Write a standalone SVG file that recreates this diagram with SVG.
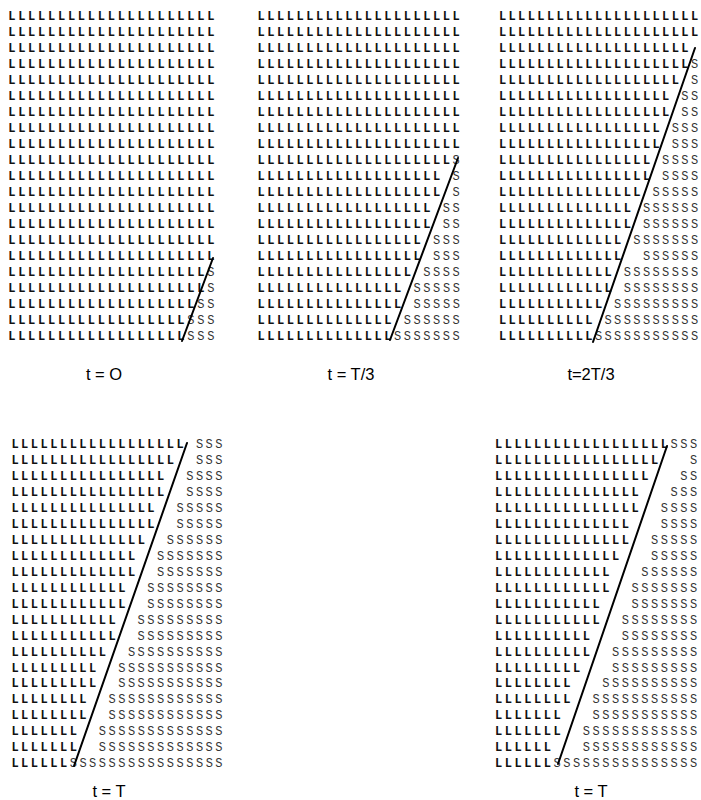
<svg xmlns="http://www.w3.org/2000/svg" width="701" height="800" viewBox="0 0 701 800">
<style>
.rows text{font-family:"Liberation Mono","DejaVu Sans Mono",monospace;font-size:12px;font-weight:bold;fill:#111}
.s{font-weight:normal;fill:#333}
.r1{letter-spacing:2.75px}
.r2{letter-spacing:2.56px}
.r3{letter-spacing:2.4px}
.r4{letter-spacing:2.51px}
.r5{letter-spacing:2.55px}
.lbl{font-family:"Liberation Sans",Arial,sans-serif;font-size:16.5px;text-anchor:middle;fill:#000;letter-spacing:0}
.ln{stroke:#000;stroke-width:2;stroke-linecap:round;fill:none}
</style>
<rect width="701" height="800" fill="#fff"/>
<g id="p1">
<g class="rows r1">
<text x="8.2" y="19.5">LLLLLLLLLLLLLLLLLLLLL</text>
<text x="8.2" y="35.5">LLLLLLLLLLLLLLLLLLLLL</text>
<text x="8.2" y="51.5">LLLLLLLLLLLLLLLLLLLLL</text>
<text x="8.2" y="67.5">LLLLLLLLLLLLLLLLLLLLL</text>
<text x="8.2" y="83.5">LLLLLLLLLLLLLLLLLLLLL</text>
<text x="8.2" y="99.5">LLLLLLLLLLLLLLLLLLLLL</text>
<text x="8.2" y="115.5">LLLLLLLLLLLLLLLLLLLLL</text>
<text x="8.2" y="131.5">LLLLLLLLLLLLLLLLLLLLL</text>
<text x="8.2" y="147.5">LLLLLLLLLLLLLLLLLLLLL</text>
<text x="8.2" y="163.5">LLLLLLLLLLLLLLLLLLLLL</text>
<text x="8.2" y="179.5">LLLLLLLLLLLLLLLLLLLLL</text>
<text x="8.2" y="195.5">LLLLLLLLLLLLLLLLLLLLL</text>
<text x="8.2" y="211.5">LLLLLLLLLLLLLLLLLLLLL</text>
<text x="8.2" y="227.5">LLLLLLLLLLLLLLLLLLLLL</text>
<text x="8.2" y="243.5">LLLLLLLLLLLLLLLLLLLLL</text>
<text x="8.2" y="259.5">LLLLLLLLLLLLLLLLLLLLL</text>
<text x="8.2" y="275.5">LLLLLLLLLLLLLLLLLLLL<tspan class="s" x="207.2">S</tspan></text>
<text x="8.2" y="291.5">LLLLLLLLLLLLLLLLLLLL<tspan class="s" x="207.2">S</tspan></text>
<text x="8.2" y="307.5">LLLLLLLLLLLLLLLLLLL<tspan class="s" x="197.2">SS</tspan></text>
<text x="8.2" y="323.5">LLLLLLLLLLLLLLLLLL<tspan class="s" x="187.3">SSS</tspan></text>
<text x="8.2" y="339.5">LLLLLLLLLLLLLLLLLL<tspan class="s" x="187.3">SSS</tspan></text>
</g>
<text class="lbl" x="104" y="380">t = O</text>
</g>
<g id="p2">
<g class="rows r2">
<text x="257.4" y="19.5">LLLLLLLLLLLLLLLLLLLLL</text>
<text x="257.4" y="35.5">LLLLLLLLLLLLLLLLLLLLL</text>
<text x="257.4" y="51.5">LLLLLLLLLLLLLLLLLLLLL</text>
<text x="257.4" y="67.5">LLLLLLLLLLLLLLLLLLLLL</text>
<text x="257.4" y="83.5">LLLLLLLLLLLLLLLLLLLLL</text>
<text x="257.4" y="99.5">LLLLLLLLLLLLLLLLLLLLL</text>
<text x="257.4" y="115.5">LLLLLLLLLLLLLLLLLLLLL</text>
<text x="257.4" y="131.5">LLLLLLLLLLLLLLLLLLLLL</text>
<text x="257.4" y="147.5">LLLLLLLLLLLLLLLLLLLLL</text>
<text x="257.4" y="163.5">LLLLLLLLLLLLLLLLLLLL<tspan class="s" x="452.6">S</tspan></text>
<text x="257.4" y="179.5">LLLLLLLLLLLLLLLLLLL<tspan class="s" x="452.6">S</tspan></text>
<text x="257.4" y="195.5">LLLLLLLLLLLLLLLLLLL<tspan class="s" x="452.6">S</tspan></text>
<text x="257.4" y="211.5">LLLLLLLLLLLLLLLLLL<tspan class="s" x="442.8">SS</tspan></text>
<text x="257.4" y="227.5">LLLLLLLLLLLLLLLLLL<tspan class="s" x="442.8">SS</tspan></text>
<text x="257.4" y="243.5">LLLLLLLLLLLLLLLLL<tspan class="s" x="433.1">SSS</tspan></text>
<text x="257.4" y="259.5">LLLLLLLLLLLLLLLLL<tspan class="s" x="433.1">SSS</tspan></text>
<text x="257.4" y="275.5">LLLLLLLLLLLLLLLL<tspan class="s" x="423.3">SSSS</tspan></text>
<text x="257.4" y="291.5">LLLLLLLLLLLLLLL<tspan class="s" x="413.6">SSSSS</tspan></text>
<text x="257.4" y="307.5">LLLLLLLLLLLLLLL<tspan class="s" x="413.6">SSSSS</tspan></text>
<text x="257.4" y="323.5">LLLLLLLLLLLLLL<tspan class="s" x="403.8">SSSSSS</tspan></text>
<text x="257.4" y="339.5">LLLLLLLLLLLLLL<tspan class="s" x="394">SSSSSSS</tspan></text>
</g>
<text class="lbl" x="351" y="380">t = T/3</text>
</g>
<g id="p3">
<g class="rows r3">
<text x="498.9" y="19.5">LLLLLLLLLLLLLLLLLLLLL</text>
<text x="498.9" y="35.5">LLLLLLLLLLLLLLLLLLLLL</text>
<text x="498.9" y="51.5">LLLLLLLLLLLLLLLLLLLL</text>
<text x="498.9" y="67.5">LLLLLLLLLLLLLLLLLLLL<tspan class="s" x="690.9">S</tspan></text>
<text x="498.9" y="83.5">LLLLLLLLLLLLLLLLLLL<tspan class="s" x="690.9">S</tspan></text>
<text x="498.9" y="99.5">LLLLLLLLLLLLLLLLLL<tspan class="s" x="681.3">SS</tspan></text>
<text x="498.9" y="115.5">LLLLLLLLLLLLLLLLLL<tspan class="s" x="681.3">SS</tspan></text>
<text x="498.9" y="131.5">LLLLLLLLLLLLLLLLL<tspan class="s" x="671.7">SSS</tspan></text>
<text x="498.9" y="147.5">LLLLLLLLLLLLLLLLL<tspan class="s" x="671.7">SSS</tspan></text>
<text x="498.9" y="163.5">LLLLLLLLLLLLLLLL<tspan class="s" x="662.1">SSSS</tspan></text>
<text x="498.9" y="179.5">LLLLLLLLLLLLLLLL<tspan class="s" x="662.1">SSSS</tspan></text>
<text x="498.9" y="195.5">LLLLLLLLLLLLLLL<tspan class="s" x="652.5">SSSSS</tspan></text>
<text x="498.9" y="211.5">LLLLLLLLLLLLLL<tspan class="s" x="642.9">SSSSSS</tspan></text>
<text x="498.9" y="227.5">LLLLLLLLLLLLLL<tspan class="s" x="642.9">SSSSSS</tspan></text>
<text x="498.9" y="243.5">LLLLLLLLLLLLL<tspan class="s" x="633.3">SSSSSSS</tspan></text>
<text x="498.9" y="259.5">LLLLLLLLLLLLL<tspan class="s" x="642.9">SSSSSS</tspan></text>
<text x="498.9" y="275.5">LLLLLLLLLLLL<tspan class="s" x="623.7">SSSSSSSS</tspan></text>
<text x="498.9" y="291.5">LLLLLLLLLLLL<tspan class="s" x="623.7">SSSSSSSS</tspan></text>
<text x="498.9" y="307.5">LLLLLLLLLLL<tspan class="s" x="614.1">SSSSSSSSS</tspan></text>
<text x="498.9" y="323.5">LLLLLLLLLL<tspan class="s" x="604.5">SSSSSSSSSS</tspan></text>
<text x="498.9" y="339.5">LLLLLLLLLL<tspan class="s" x="594.9">SSSSSSSSSSS</tspan></text>
</g>
<text class="lbl" x="591" y="380">t=2T/3</text>
</g>
<g id="p4">
<g class="rows r4">
<text x="11.4" y="448">LLLLLLLLLLLLLLLLLL<tspan class="s" x="195.9">SSS</tspan></text>
<text x="11.4" y="464">LLLLLLLLLLLLLLLLL<tspan class="s" x="195.9">SSS</tspan></text>
<text x="11.4" y="480">LLLLLLLLLLLLLLLL<tspan class="s" x="186.2">SSSS</tspan></text>
<text x="11.4" y="496">LLLLLLLLLLLLLLLL<tspan class="s" x="186.2">SSSS</tspan></text>
<text x="11.4" y="512">LLLLLLLLLLLLLLL<tspan class="s" x="176.5">SSSSS</tspan></text>
<text x="11.4" y="528">LLLLLLLLLLLLLLL<tspan class="s" x="176.5">SSSSS</tspan></text>
<text x="11.4" y="544">LLLLLLLLLLLLLL<tspan class="s" x="166.8">SSSSSS</tspan></text>
<text x="11.4" y="560">LLLLLLLLLLLLL<tspan class="s" x="157.1">SSSSSSS</tspan></text>
<text x="11.4" y="576">LLLLLLLLLLLLL<tspan class="s" x="157.1">SSSSSSS</tspan></text>
<text x="11.4" y="592">LLLLLLLLLLLL<tspan class="s" x="147.3">SSSSSSSS</tspan></text>
<text x="11.4" y="607.5">LLLLLLLLLLLL<tspan class="s" x="147.3">SSSSSSSS</tspan></text>
<text x="11.4" y="623.5">LLLLLLLLLLL<tspan class="s" x="137.6">SSSSSSSSS</tspan></text>
<text x="11.4" y="639.5">LLLLLLLLLLL<tspan class="s" x="137.6">SSSSSSSSS</tspan></text>
<text x="11.4" y="655.5">LLLLLLLLLL<tspan class="s" x="127.9">SSSSSSSSSS</tspan></text>
<text x="11.4" y="671.5">LLLLLLLLL<tspan class="s" x="118.2">SSSSSSSSSSS</tspan></text>
<text x="11.4" y="687">LLLLLLLLL<tspan class="s" x="118.2">SSSSSSSSSSS</tspan></text>
<text x="11.4" y="703">LLLLLLLL<tspan class="s" x="108.5">SSSSSSSSSSSS</tspan></text>
<text x="11.4" y="719">LLLLLLLL<tspan class="s" x="108.5">SSSSSSSSSSSS</tspan></text>
<text x="11.4" y="735">LLLLLLL<tspan class="s" x="98.8">SSSSSSSSSSSSS</tspan></text>
<text x="11.4" y="751">LLLLLLL<tspan class="s" x="98.8">SSSSSSSSSSSSS</tspan></text>
<text x="11.4" y="767">LLLLLL<tspan class="s" x="69.7">SSSSSSSSSSSSSSSS</tspan></text>
</g>
<text class="lbl" x="109" y="797">t = T</text>
</g>
<g id="p5">
<g class="rows r5">
<text x="494.9" y="448">LLLLLLLLLLLLLLLLLL<tspan class="s" x="670.4">SSS</tspan></text>
<text x="494.9" y="464">LLLLLLLLLLLLLLLLL<tspan class="s" x="689.9">S</tspan></text>
<text x="494.9" y="480">LLLLLLLLLLLLLLLL<tspan class="s" x="680.15">SS</tspan></text>
<text x="494.9" y="496">LLLLLLLLLLLLLLL<tspan class="s" x="670.4">SSS</tspan></text>
<text x="494.9" y="512">LLLLLLLLLLLLLLL<tspan class="s" x="660.65">SSSS</tspan></text>
<text x="494.9" y="528">LLLLLLLLLLLLLL<tspan class="s" x="660.65">SSSS</tspan></text>
<text x="494.9" y="544">LLLLLLLLLLLLLL<tspan class="s" x="650.9">SSSSS</tspan></text>
<text x="494.9" y="560">LLLLLLLLLLLLL<tspan class="s" x="650.9">SSSSS</tspan></text>
<text x="494.9" y="576">LLLLLLLLLLLL<tspan class="s" x="641.15">SSSSSS</tspan></text>
<text x="494.9" y="592">LLLLLLLLLLLL<tspan class="s" x="631.4">SSSSSSS</tspan></text>
<text x="494.9" y="607.5">LLLLLLLLLLL<tspan class="s" x="631.4">SSSSSSS</tspan></text>
<text x="494.9" y="623.5">LLLLLLLLLLL<tspan class="s" x="621.65">SSSSSSSS</tspan></text>
<text x="494.9" y="639.5">LLLLLLLLLL<tspan class="s" x="621.65">SSSSSSSS</tspan></text>
<text x="494.9" y="655.5">LLLLLLLLLL<tspan class="s" x="611.9">SSSSSSSSS</tspan></text>
<text x="494.9" y="671.5">LLLLLLLLL<tspan class="s" x="611.9">SSSSSSSSS</tspan></text>
<text x="494.9" y="687">LLLLLLLL<tspan class="s" x="602.15">SSSSSSSSSS</tspan></text>
<text x="494.9" y="703">LLLLLLLL<tspan class="s" x="592.4">SSSSSSSSSSS</tspan></text>
<text x="494.9" y="719">LLLLLLL<tspan class="s" x="592.4">SSSSSSSSSSS</tspan></text>
<text x="494.9" y="735">LLLLLLL<tspan class="s" x="582.65">SSSSSSSSSSSS</tspan></text>
<text x="494.9" y="751">LLLLLL<tspan class="s" x="582.65">SSSSSSSSSSSS</tspan></text>
<text x="494.9" y="767">LLLLLL<tspan class="s" x="553.4">SSSSSSSSSSSSSSS</tspan></text>
</g>
<text class="lbl" x="591" y="797">t = T</text>
</g>
<g id="interfaces" class="ln">
<line x1="213" y1="258" x2="182" y2="341"/>
<line x1="458" y1="158" x2="390" y2="340"/>
<line x1="695" y1="48" x2="593" y2="342"/>
<line x1="187" y1="443" x2="74" y2="766"/>
<line x1="667" y1="446" x2="558" y2="764"/>
</g>
</svg>
